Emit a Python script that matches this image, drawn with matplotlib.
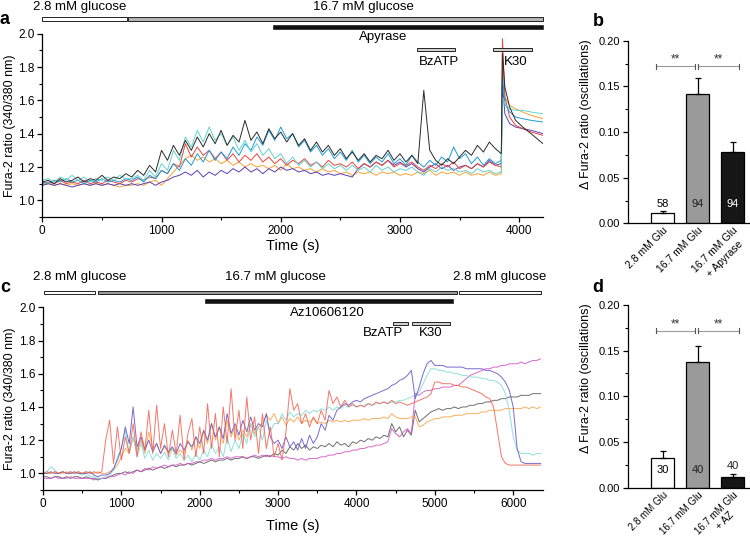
import numpy as np
import matplotlib
matplotlib.use('Agg')
import matplotlib.pyplot as plt
from matplotlib.patches import Rectangle
from matplotlib.ticker import MultipleLocator, FormatStrFormatter
from matplotlib.textpath import TextPath
from matplotlib.font_manager import FontProperties

plt.rcParams['font.family'] = ['Liberation Sans', 'DejaVu Sans']

# ---------------- data: panel a ----------------
time_a = np.concatenate([np.arange(0, 3851, 50), [3860, 3880, 3920, 3970, 4030, 4100, 4200]])

a_black = [1.11,1.12,1.10,1.13,1.11,1.12,1.14,1.11,1.13,1.12,1.15,1.12,1.14,1.13,1.16,
           1.14,1.18,1.15,1.21,1.17,1.30,
           1.24,1.33,1.27,1.36,
           1.30,1.38,1.32,1.40,1.34,1.42,1.33,1.39,1.35,1.48,1.36,1.41,1.34,1.43,1.37,1.41,1.35,1.40,
           1.33,1.37,1.30,1.35,1.29,1.33,1.27,1.31,
           1.25,1.29,1.24,1.28,1.23,1.27,1.25,1.30,1.24,1.28,1.23,1.27,1.22,
           1.66,
           1.30,1.24,1.21,1.25,1.22,1.26,
           1.30,1.27,1.33,1.29,1.35,1.31,1.28,
           1.88,1.68,1.56,1.48,1.44,1.40,1.34]
a_cyan = [1.12,1.13,1.11,1.14,1.12,1.15,1.12,1.14,1.11,1.13,1.12,1.14,1.12,1.15,1.13,
          1.13,1.15,1.12,1.18,1.14,1.22,
          1.18,1.30,1.24,1.38,
          1.32,1.42,1.35,1.44,1.36,1.40,1.33,1.38,1.30,1.36,1.29,1.34,1.27,1.31,1.25,1.28,1.22,1.26,
          1.21,1.24,1.20,1.23,1.19,1.22,1.19,1.21,
          1.18,1.21,1.18,1.20,1.17,1.21,1.18,1.20,1.17,1.19,1.18,1.20,1.17,
          1.15,
          1.19,1.17,1.20,1.18,1.19,1.17,
          1.18,1.16,1.19,1.17,1.18,1.16,1.17,
          1.62,1.58,1.55,1.54,1.54,1.53,1.52]
a_blue = [1.11,1.10,1.12,1.11,1.13,1.11,1.12,1.10,1.12,1.11,1.13,1.11,1.12,1.11,1.13,
          1.12,1.14,1.11,1.15,1.13,1.18,
          1.16,1.22,1.18,1.25,
          1.21,1.28,1.23,1.30,1.24,1.29,1.25,1.32,1.27,1.34,1.30,1.38,1.33,1.42,1.36,1.44,1.37,1.40,
          1.32,1.36,1.29,1.33,1.27,1.31,1.25,1.29,
          1.24,1.30,1.23,1.27,1.22,1.26,1.23,1.28,1.22,1.25,1.21,1.27,1.23,
          1.20,
          1.24,1.21,1.26,1.23,1.32,1.25,
          1.28,1.22,1.26,1.21,1.25,1.22,1.24,
          1.75,1.58,1.53,1.50,1.49,1.48,1.47]
a_red = [1.10,1.11,1.10,1.12,1.10,1.11,1.10,1.12,1.10,1.11,1.10,1.12,1.11,1.10,1.12,
         1.11,1.13,1.12,1.14,1.13,1.18,
         1.16,1.22,1.20,1.34,
         1.26,1.32,1.27,1.30,1.25,1.29,1.24,1.28,1.23,1.27,1.24,1.28,1.23,1.26,1.22,1.25,1.21,1.24,
         1.22,1.25,1.21,1.23,1.20,1.24,1.21,1.22,
         1.20,1.23,1.19,1.22,1.20,1.23,1.21,1.24,1.20,1.22,1.21,1.23,1.20,
         1.18,
         1.21,1.19,1.22,1.20,1.23,1.19,
         1.21,1.19,1.22,1.20,1.23,1.21,1.20,
         1.97,1.62,1.50,1.45,1.43,1.41,1.39]
a_orange = [1.09,1.10,1.09,1.10,1.09,1.10,1.09,1.10,1.09,1.10,1.09,1.10,1.09,1.08,1.09,
            1.09,1.10,1.09,1.11,1.12,1.09,
            1.13,1.17,1.21,1.25,
            1.27,1.24,1.26,1.23,1.25,1.22,1.24,1.21,1.23,1.20,1.22,1.20,1.21,1.19,1.21,1.18,1.22,1.19,
            1.20,1.18,1.19,1.17,1.19,1.17,1.18,1.16,
            1.17,1.15,1.17,1.16,1.17,1.15,1.17,1.16,1.17,1.15,1.16,1.15,1.17,
            1.16,
            1.18,1.15,1.17,1.16,1.17,1.15,
            1.17,1.15,1.16,1.15,1.17,1.15,1.16,
            1.90,1.62,1.57,1.55,1.53,1.51,1.49]
a_purple = [1.09,1.10,1.09,1.10,1.09,1.08,1.09,1.10,1.09,1.10,1.09,1.10,1.09,1.10,1.09,
            1.10,1.09,1.10,1.11,1.09,1.11,
            1.12,1.14,1.15,1.17,
            1.15,1.18,1.14,1.17,1.15,1.18,1.16,1.19,1.17,1.20,1.17,1.19,1.16,1.19,1.17,1.20,1.18,1.19,
            1.17,1.18,1.16,1.17,1.15,1.16,1.15,1.16,
            1.15,1.14,1.19,1.22,1.20,1.23,1.21,1.24,1.21,1.23,1.20,1.22,1.19,
            1.17,
            1.20,1.22,1.19,1.21,1.18,1.20,
            1.21,1.19,1.22,1.20,1.24,1.21,1.22,
            1.70,1.52,1.46,1.44,1.43,1.42,1.40]

# stimulus periods (s), panel a
a_glucose_low = (0, 708)
a_glucose_high = (717, 4200)
a_apyrase = (1937, 4200)
a_bzatp = (3141, 3464)
a_k30 = (3780, 4105)

# ---------------- data: panel c ----------------
time_c = np.arange(0, 6351, 50)

c_red = [1.00,1.01,1.00,1.01,1.00,1.01,1.00,1.01,1.00,1.01,
         1.00,1.01,1.00,1.01,1.00,1.01,1.20,1.32,1.06,1.28,
         1.08,1.22,1.12,1.30,1.10,1.25,1.14,1.38,1.12,1.41,
         1.15,1.30,1.10,1.26,1.12,1.35,1.08,1.24,1.33,1.10,
         1.28,1.12,1.42,1.15,1.36,1.10,1.40,1.18,1.51,1.20,
         1.38,1.15,1.46,1.20,1.34,1.12,1.36,1.15,1.28,1.10,
         1.18,1.08,1.25,1.51,1.38,1.42,1.30,1.36,1.28,1.34,
         1.30,1.38,1.32,1.50,1.42,1.46,1.40,1.44,1.40,1.42,
         1.40,1.41,1.40,1.42,1.41,1.43,1.42,1.43,1.42,1.44,
         1.42,1.43,1.42,1.41,1.42,1.43,1.44,1.45,1.46,1.48,
         1.55,1.55,1.54,1.54,1.54,1.53,1.53,1.52,1.52,1.51,
         1.50,1.49,1.48,1.46,1.45,1.40,1.25,1.10,1.06,1.05,
         1.05,1.05,1.05,1.05,1.05,1.05,1.05,1.05]
c_cyan = [1.00,1.01,1.04,1.02,1.00,1.01,1.00,1.01,1.00,1.00,
          0.99,1.00,0.98,0.98,0.97,0.97,0.98,0.99,1.02,1.10,
          1.15,1.26,1.12,1.22,1.10,1.18,1.09,1.14,1.08,1.12,
          1.09,1.13,1.08,1.15,1.09,1.12,1.08,1.11,1.07,1.12,
          1.08,1.14,1.10,1.18,1.12,1.16,1.10,1.22,1.13,1.20,
          1.15,1.24,1.18,1.30,1.22,1.28,1.20,1.32,1.25,1.30,
          1.30,1.36,1.32,1.37,1.34,1.36,1.35,1.38,1.36,1.38,
          1.37,1.39,1.38,1.40,1.38,1.40,1.39,1.41,1.40,1.41,
          1.40,1.41,1.41,1.42,1.41,1.42,1.42,1.43,1.42,1.43,
          1.43,1.44,1.44,1.45,1.46,1.47,1.49,1.54,1.59,1.63,
          1.63,1.62,1.62,1.61,1.61,1.60,1.60,1.59,1.59,1.58,
          1.58,1.58,1.57,1.57,1.56,1.56,1.55,1.53,1.48,1.38,
          1.22,1.14,1.12,1.12,1.12,1.11,1.12,1.12]
c_purple = [1.00,1.00,1.01,1.00,1.00,1.01,1.00,1.00,1.01,1.00,
            1.00,1.00,1.01,0.99,0.98,0.99,0.99,1.00,1.03,1.08,
            1.15,1.28,1.18,1.40,1.16,1.22,1.14,1.20,1.13,1.18,
            1.12,1.17,1.13,1.16,1.12,1.18,1.14,1.19,1.16,1.22,
            1.18,1.26,1.20,1.30,1.22,1.28,1.21,1.36,1.24,1.30,
            1.23,1.32,1.25,1.34,1.26,1.30,1.28,1.36,1.22,1.18,
            1.20,1.15,1.22,1.16,1.19,1.14,1.21,1.15,1.23,1.18,
            1.22,1.30,1.26,1.35,1.32,1.38,1.40,1.42,1.41,1.43,
            1.44,1.43,1.45,1.46,1.47,1.48,1.49,1.50,1.51,1.53,
            1.54,1.56,1.57,1.59,1.62,1.45,1.52,1.60,1.66,1.68,
            1.65,1.65,1.65,1.64,1.64,1.64,1.64,1.64,1.63,1.63,
            1.63,1.63,1.63,1.62,1.62,1.61,1.60,1.58,1.55,1.50,
            1.40,1.15,1.07,1.06,1.06,1.06,1.06,1.06]
c_orange = [1.00,1.00,1.00,1.01,1.00,1.00,1.01,1.00,1.00,1.01,
            1.00,1.01,1.00,1.00,1.01,1.00,1.00,1.01,1.02,1.05,
            1.10,1.15,1.12,1.22,1.14,1.20,1.12,1.25,1.15,1.18,
            1.12,1.16,1.12,1.15,1.11,1.14,1.12,1.20,1.14,1.22,
            1.15,1.25,1.18,1.30,1.20,1.28,1.18,1.32,1.22,1.28,
            1.20,1.26,1.22,1.30,1.24,1.28,1.30,1.35,1.32,1.36,
            1.30,1.34,1.29,1.33,1.31,1.34,1.30,1.32,1.31,1.33,
            1.30,1.31,1.30,1.32,1.31,1.32,1.31,1.32,1.31,1.32,
            1.32,1.32,1.33,1.32,1.33,1.33,1.33,1.34,1.33,1.36,
            1.34,1.33,1.33,1.33,1.34,1.34,1.28,1.29,1.31,1.32,
            1.33,1.33,1.34,1.34,1.34,1.35,1.35,1.35,1.36,1.36,
            1.36,1.36,1.37,1.37,1.38,1.38,1.38,1.38,1.39,1.39,
            1.39,1.39,1.39,1.40,1.39,1.40,1.39,1.40]
c_black = [0.98,0.98,0.97,0.98,0.98,0.97,0.98,0.97,0.98,0.98,
           0.97,0.98,0.97,0.97,0.96,0.97,0.97,0.98,0.99,1.00,
           1.00,1.01,1.00,1.01,1.02,1.01,1.02,1.03,1.02,1.03,
           1.04,1.03,1.04,1.05,1.04,1.05,1.05,1.06,1.05,1.06,
           1.07,1.06,1.07,1.08,1.07,1.08,1.08,1.09,1.08,1.09,
           1.09,1.10,1.09,1.10,1.10,1.09,1.10,1.11,1.10,1.12,
           1.11,1.14,1.12,1.16,1.14,1.18,1.15,1.17,1.14,1.16,
           1.15,1.17,1.16,1.18,1.16,1.19,1.17,1.18,1.16,1.19,
           1.18,1.20,1.19,1.21,1.20,1.22,1.21,1.23,1.22,1.30,
           1.25,1.28,1.22,1.26,1.23,1.38,1.31,1.33,1.35,1.37,
           1.38,1.39,1.38,1.39,1.39,1.40,1.39,1.40,1.40,1.41,
           1.41,1.42,1.42,1.43,1.43,1.44,1.44,1.45,1.45,1.46,
           1.46,1.46,1.47,1.47,1.47,1.48,1.48,1.48]
c_magenta = [0.97,0.97,0.97,0.98,0.97,0.97,0.97,0.98,0.97,0.97,
             0.97,0.97,0.97,0.96,0.97,0.97,0.97,0.98,0.98,0.99,
             1.00,0.99,1.01,1.00,1.02,1.01,1.03,1.02,1.04,1.03,
             1.04,1.05,1.04,1.05,1.05,1.06,1.05,1.06,1.06,1.07,
             1.07,1.08,1.08,1.09,1.08,1.09,1.09,1.10,1.09,1.10,
             1.10,1.10,1.09,1.10,1.11,1.10,1.11,1.10,1.11,1.10,
             1.10,1.09,1.10,1.09,1.09,1.08,1.09,1.08,1.09,1.09,
             1.09,1.10,1.10,1.11,1.11,1.12,1.12,1.13,1.13,1.14,
             1.14,1.15,1.15,1.16,1.16,1.17,1.17,1.18,1.19,1.27,
             1.24,1.22,1.25,1.27,1.24,1.48,1.47,1.49,1.50,1.50,
             1.51,1.51,1.52,1.52,1.52,1.53,1.53,1.55,1.57,1.59,
             1.60,1.61,1.62,1.63,1.63,1.64,1.64,1.65,1.65,1.66,
             1.66,1.66,1.67,1.66,1.67,1.68,1.68,1.69]

# stimulus periods (s), panel c
c_glucose_low1 = (14, 668)
c_glucose_high = (700, 5277)
c_glucose_low2 = (5314, 6353)
c_az = (2064, 5231)
c_bzatp = (4462, 4659)
c_k30 = (4705, 5199)

# ---------------- data: panels b, d ----------------
b_categories = ['2.8 mM Glu', '16.7 mM Glu', '16.7 mM Glu']
b_second_line = ['', '', '+ Apyrase']
b_means = [0.011, 0.1413, 0.0784]
b_errors = [0.0032, 0.0175, 0.0103]
b_counts = ['58', '94', '94']

d_categories = ['2.8 mM Glu', '16.7 mM Glu', '16.7 mM Glu']
d_second_line = ['', '', '+ AZ']
d_means = [0.0318, 0.1378, 0.0117]
d_errors = [0.0082, 0.0172, 0.0026]
d_counts = ['30', '40', '40']

# ---------------- figure ----------------
W, H = 750, 537
fig = plt.figure(figsize=(7.5, 5.37), dpi=100)


def frac(x0, y_top, x1, y_bot):
    return [x0 / W, 1 - y_bot / H, (x1 - x0) / W, (y_bot - y_top) / H]


def style(ax, labelsize):
    for s in ('top', 'right'):
        ax.spines[s].set_visible(False)
    for s in ('left', 'bottom'):
        ax.spines[s].set_linewidth(0.9)
    ax.tick_params(which='major', direction='out', length=3.5, width=0.9, labelsize=labelsize, pad=2)
    ax.tick_params(which='minor', direction='out', length=2, width=0.8)


def stim(ax, span, yc, h, fc, ec='#222222', lw=0.7):
    t0, t1 = span
    ax.add_patch(Rectangle((t0, yc - h / 2), t1 - t0, h, facecolor=fc, edgecolor=ec,
                           linewidth=lw, clip_on=False, zorder=5))


trace_lw = 0.7
lab_fs = 9.5

# ---- panel a ----
ax_a = fig.add_axes(frac(42.3, 33.7, 543, 217))
style(ax_a, 8.5)
ax_a.plot(time_a, a_orange, color='#f7a136', lw=trace_lw)
ax_a.plot(time_a, a_purple, color='#5a3fb5', lw=trace_lw)
ax_a.plot(time_a, a_red, color='#e8443c', lw=trace_lw)
ax_a.plot(time_a, a_blue, color='#1f9bd6', lw=trace_lw)
ax_a.plot(time_a, a_cyan, color='#62d2cc', lw=trace_lw)
ax_a.plot(time_a, a_black, color='#2b2b2b', lw=trace_lw)
ax_a.set_xlim(0, 4200)
ax_a.set_ylim(0.9, 2.0)
ax_a.xaxis.set_major_locator(MultipleLocator(1000))
ax_a.xaxis.set_minor_locator(MultipleLocator(500))
ax_a.yaxis.set_major_locator(MultipleLocator(0.2))
ax_a.yaxis.set_minor_locator(MultipleLocator(0.1))
ax_a.yaxis.set_major_formatter(FormatStrFormatter('%.1f'))
ax_a.set_xlabel('Time (s)', fontsize=10.5, labelpad=2)
ax_a.set_ylabel('Fura-2 ratio (340/380 nm)', fontsize=9)
ax_a.yaxis.set_label_coords(-0.053, 0.5)

stim(ax_a, a_glucose_low, 2.088, 0.02, 'white')
stim(ax_a, a_glucose_high, 2.088, 0.02, '#b4b4b4')
stim(ax_a, a_apyrase, 2.038, 0.025, '#111111', lw=0.5)
stim(ax_a, a_bzatp, 1.908, 0.018, '#d2d2d2')
stim(ax_a, a_k30, 1.908, 0.018, '#d2d2d2')
ax_a.text(316, 2.162, '2.8 mM glucose', ha='center', va='center', fontsize=lab_fs)
ax_a.text(2696, 2.162, '16.7 mM glucose', ha='center', va='center', fontsize=lab_fs)
ax_a.text(2861, 1.982, 'Apyrase', ha='center', va='center', fontsize=lab_fs)
ax_a.text(3328, 1.832, 'BzATP', ha='center', va='center', fontsize=lab_fs)
ax_a.text(3970, 1.832, 'K30', ha='center', va='center', fontsize=lab_fs)

# ---- panel c ----
ax_c = fig.add_axes(frac(43, 307.3, 543, 490))
style(ax_c, 8.5)
ca = 0.85
ax_c.plot(time_c, c_black, color='#555555', lw=trace_lw, alpha=ca)
ax_c.plot(time_c, c_magenta, color='#d24fc6', lw=trace_lw, alpha=ca)
ax_c.plot(time_c, c_orange, color='#f9a040', lw=trace_lw, alpha=ca)
ax_c.plot(time_c, c_cyan, color='#7fdad5', lw=trace_lw, alpha=ca)
ax_c.plot(time_c, c_purple, color='#6450c4', lw=trace_lw, alpha=ca)
ax_c.plot(time_c, c_red, color='#f0604f', lw=trace_lw, alpha=ca)
ax_c.set_xlim(0, 6380)
ax_c.set_ylim(0.9, 2.0)
ax_c.xaxis.set_major_locator(MultipleLocator(1000))
ax_c.xaxis.set_minor_locator(MultipleLocator(500))
ax_c.yaxis.set_major_locator(MultipleLocator(0.2))
ax_c.yaxis.set_minor_locator(MultipleLocator(0.1))
ax_c.yaxis.set_major_formatter(FormatStrFormatter('%.1f'))
ax_c.set_xlabel('Time (s)', fontsize=10.5, labelpad=7)
ax_c.set_ylabel('Fura-2 ratio (340/380 nm)', fontsize=9)
ax_c.yaxis.set_label_coords(-0.053, 0.5)

stim(ax_c, c_glucose_low1, 2.090, 0.02, 'white')
stim(ax_c, c_glucose_high, 2.090, 0.02, '#999999')
stim(ax_c, c_glucose_low2, 2.090, 0.02, 'white')
stim(ax_c, c_az, 2.040, 0.025, '#111111', lw=0.5)
stim(ax_c, c_bzatp, 1.904, 0.018, '#d2d2d2')
stim(ax_c, c_k30, 1.904, 0.018, '#d2d2d2')
ax_c.text(471, 2.181, '2.8 mM glucose', ha='center', va='center', fontsize=lab_fs)
ax_c.text(2966, 2.181, '16.7 mM glucose', ha='center', va='center', fontsize=lab_fs)
ax_c.text(5827, 2.181, '2.8 mM glucose', ha='center', va='center', fontsize=lab_fs)
ax_c.text(3630, 1.967, 'Az10606120', ha='center', va='center', fontsize=lab_fs)
ax_c.text(4339, 1.847, 'BzATP', ha='center', va='center', fontsize=lab_fs)
ax_c.text(4948, 1.847, 'K30', ha='center', va='center', fontsize=lab_fs)


# ---- bar panels ----
def bar_panel(ax, cats, second, means, errs, counts, count_pos, xfs):
    style(ax, 8)
    x = np.arange(1, len(means) + 1)
    colors = ['white', '#9a9a9a', '#161616']
    ax.bar(x, means, width=0.64, color=colors, edgecolor='black', linewidth=0.9, zorder=2)
    ax.errorbar(x, means, yerr=[np.zeros(len(errs)), errs], fmt='none', ecolor='black',
                elinewidth=0.9, capsize=2.2, capthick=0.9, zorder=3)
    ax.set_xlim(0, 3.5)
    ax.set_ylim(0, 0.2)
    ax.yaxis.set_major_locator(MultipleLocator(0.05))
    ax.yaxis.set_minor_locator(MultipleLocator(0.025))
    ax.yaxis.set_major_formatter(FormatStrFormatter('%.2f'))
    ax.set_xticks(x)
    pad = 1.5
    ax.set_xticklabels(cats, rotation=45, ha='right', va='top', rotation_mode='anchor', fontsize=xfs)
    ax.tick_params(axis='x', which='both', length=0, pad=pad)
    # second text line of a category, centred under the first line (rotated frame)
    fp = FontProperties(family='Liberation Sans')
    c45 = np.sqrt(0.5)
    for xi, first, sec in zip(x, cats, second):
        if not sec:
            continue
        wpt = TextPath((0, 0), first, size=xfs, prop=fp).get_extents().width
        u = -wpt / 2
        v = -xfs * 1.2 - xfs * 0.5
        ax.annotate(sec, xy=(xi, 0), xycoords=('data', 'axes fraction'),
                    xytext=((u - v) * c45, (u + v) * c45 - pad), textcoords='offset points',
                    rotation=45, rotation_mode='anchor', ha='center', va='center', fontsize=xfs)
    ax.set_ylabel('\u0394 Fura-2 ratio (oscillations)', fontsize=9)
    ax.yaxis.set_label_coords(-0.29, 0.6)
    txt_colors = ['black', '#222222', 'white']
    for xi, c, yp, tc in zip(x, counts, count_pos, txt_colors):
        if yp > 0.0225:
            tc = '#222222'
        ax.text(xi, yp, c, ha='center', va='center', fontsize=8, color=tc, zorder=4)
    # significance brackets
    yb = 0.172
    for (x0, x1) in [(0.81, 1.93), (2.0, 3.18)]:
        ax.plot([x0, x1], [yb, yb], color='#9a9a9a', lw=0.8, clip_on=False)
        for xe in (x0, x1):
            ax.plot([xe, xe], [yb - 0.003, yb + 0.0025], color='#555555', lw=0.8, clip_on=False)
        ax.text((x0 + x1) / 2, yb + 0.0005, '**', ha='center', va='bottom', fontsize=8.5, color='#333333')


ax_b = fig.add_axes(frac(627.5, 40.7, 750, 223.5))
bar_panel(ax_b, b_categories, b_second_line, b_means, b_errors, b_counts, [0.0215, 0.021, 0.021], 7.5)

ax_d = fig.add_axes(frac(627.5, 305, 750, 487.5))
bar_panel(ax_d, d_categories, d_second_line, d_means, d_errors, d_counts, [0.019, 0.019, 0.0235], 7)

# panel letters
for lbl, (px, py) in {'a': (5, 20), 'b': (598, 21), 'c': (5, 288), 'd': (598, 288)}.items():
    fig.text(px / W, 1 - py / H, lbl, fontsize=13, fontweight='bold', ha='center', va='center')

fig.savefig('out.png', dpi=100)
